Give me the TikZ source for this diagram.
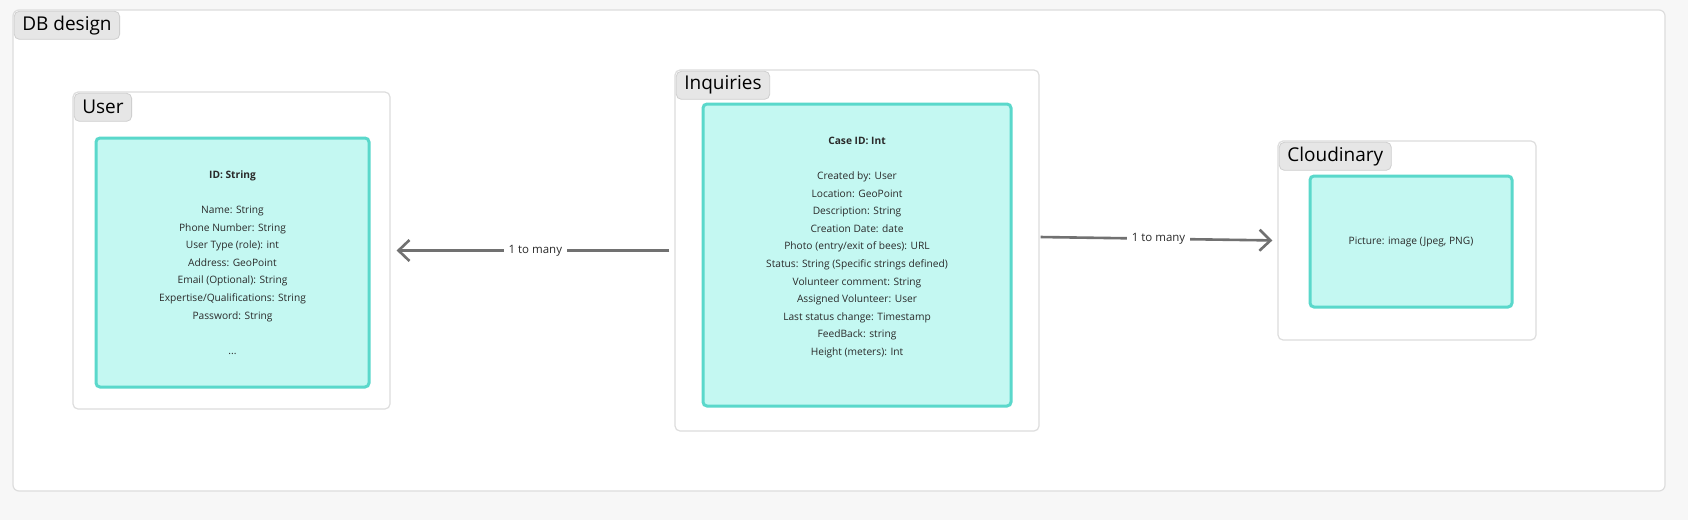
\documentclass[tikz,border=0pt]{standalone}
\usepackage{fontspec}
\setmainfont{Open Sans}
\usetikzlibrary{arrows.meta}

\definecolor{pagebg}{HTML}{F7F7F7}
\definecolor{framegray}{HTML}{DDDDDD}
\definecolor{tagfill}{HTML}{E6E6E6}
\definecolor{tagedge}{HTML}{CFCFCF}
\definecolor{tealfill}{HTML}{C4F8F2}
\definecolor{tealedge}{HTML}{5AD8CB}
\definecolor{inktext}{HTML}{2A2A2A}
\definecolor{arrowgray}{HTML}{717171}

\tikzset{
  frame/.style={draw=framegray, fill=white, line width=1.2pt, rounded corners=5pt, inner sep=0pt},
  entity/.style={draw=tealedge, fill=tealfill, line width=3pt, rounded corners=4pt,
    inner sep=0pt, align=center, text=inktext, font=\fontsize{10.2}{17.6}\selectfont},
  tag/.style={draw=tagedge, fill=tagfill, line width=0.8pt, rounded corners=5pt, anchor=north west,
    minimum height=28pt, inner xsep=8pt, inner ysep=0pt, text=black, font=\fontsize{19}{21}\selectfont},
  link/.style={draw=arrowgray, line width=2.6pt},
  linklabel/.style={fill=white, text=inktext, inner xsep=5pt, font=\fontsize{11.5}{13}\selectfont}
}

\begin{document}
\begin{tikzpicture}[x=1pt, y=-1pt, >={Straight Barb[length=11pt, width=21pt]}]
  % page and outer frame
  \fill[pagebg] (0,0) rectangle (1688,520);
  \useasboundingbox (0,0) rectangle (1688,520);
  \node[frame, rounded corners=6pt, minimum width=1652pt, minimum height=481pt] (db) at (839,250.5) {};

  % group frames
  \node[frame, minimum width=317pt, minimum height=317pt] (user) at (231.5,250.5) {};
  \node[frame, minimum width=364pt, minimum height=361pt] (inq) at (857,250.5) {};
  \node[frame, minimum width=258pt, minimum height=199pt] (cloud) at (1407,240.5) {};

  \foreach \f/\t in {db/DB design, user/User, inq/Inquiries, cloud/Cloudinary}
    \node[tag] (\f-tag) at ([shift={(1.5,1.5)}]\f.north west) {\t};

  % entities
  \node[entity, minimum width=273pt, minimum height=249pt] (user-fields) at (232.5,262.5)
    {\textbf{ID: String}\\ \\
     Name: String\\
     Phone Number: String\\
     User Type (role): int\\
     Address: GeoPoint\\
     Email (Optional): String\\
     Expertise/Qualifications: String\\
     Password: String\\ \\
     ...};
  \node[entity, minimum width=308pt, minimum height=302pt] (inq-fields) at (857,255)
    {\textbf{Case ID: Int}\\ \\
     Created by: User\\
     Location: GeoPoint\\
     Description: String\\
     Creation Date: date\\
     Photo (entry/exit of bees): URL\\
     Status: String (Specific strings defined)\\
     Volunteer comment: String\\
     Assigned Volunteer: User\\
     Last status change: Timestamp\\
     FeedBack: string\\
     Height (meters): Int\\ ~};
  \node[entity, minimum width=202pt, minimum height=131pt] (cloud-fields) at (1411,241.5)
    {Picture: image (Jpeg, PNG)};

  % relations
  \draw[link, ->, shorten <=5pt, shorten >=6pt] (inq.west) -- (user.east)
    node[linklabel, pos=0.49] (inq-user) {1 to many};
  \draw[link, ->, shorten <=1pt, shorten >=5pt] ([yshift=13.5pt]inq.east) -- (cloud.west)
    node[linklabel, pos=0.5] (inq-cloud) {1 to many};
\end{tikzpicture}
\end{document}
